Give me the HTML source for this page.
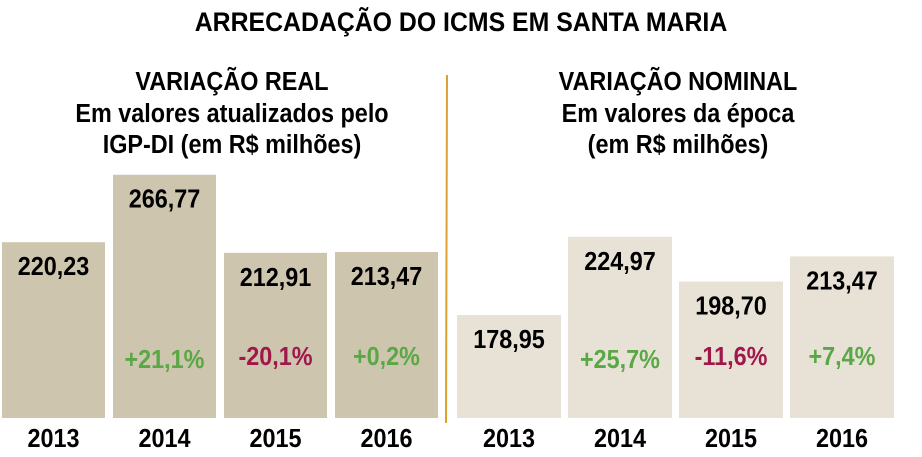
<!DOCTYPE html>
<html><head><meta charset="utf-8"><style>
body{margin:0;background:#fff;}
svg text{font-family:"Liberation Sans",sans-serif;font-weight:bold;}
</style></head><body>
<svg width="922" height="452" viewBox="0 0 922 452">
<text x="461" y="31" text-anchor="middle" font-size="27" transform="translate(461,0) scale(0.92,1) translate(-461,0)">ARRECADAÇÃO DO ICMS EM SANTA MARIA</text>
<g transform="translate(232,0) scale(0.9,1) translate(-232,0)" font-size="26" text-anchor="middle">
<text x="232" y="90">VARIAÇÃO REAL</text>
<text x="232" y="122">Em valores atualizados pelo</text>
<text x="232" y="153">IGP-DI (em R$ milhões)</text>
</g>
<g transform="translate(678,0) scale(0.9,1) translate(-678,0)" font-size="26" text-anchor="middle">
<text x="678" y="90">VARIAÇÃO NOMINAL</text>
<text x="678" y="122">Em valores da época</text>
<text x="678" y="153">(em R$ milhões)</text>
</g>
<line x1="447" y1="75" x2="446" y2="423" stroke="#e0a030" stroke-width="2"/>
<g id="bars"></g>
</svg>
<script>
const years=["2013","2014","2015","2016"];
const realValues=[220.23,266.77,212.91,213.47];
const realLabels=["220,23","266,77","212,91","213,47"];
const realChanges=["","+21,1%","-20,1%","+0,2%"];
const nominalValues=[178.95,224.97,198.70,213.47];
const nominalLabels=["178,95","224,97","198,70","213,47"];
const nominalChanges=["","+25,7%","-11,6%","+7,4%"];
const NS="http://www.w3.org/2000/svg";
const g=document.getElementById("bars");
const bottom=418;
function panel(name,vals,labels,changes,x0,step,w,slope,base,color){
  vals.forEach((v,i)=>{
    const h=slope*(v-base), x=x0+i*step, y=bottom-h, cx=x+w/2;
    const r=document.createElementNS(NS,"rect");
    
    
    r.setAttribute("x",x);r.setAttribute("y",y);r.setAttribute("width",w);r.setAttribute("height",h);r.setAttribute("fill",color);
    g.appendChild(r);
    const t=document.createElementNS(NS,"text");
    
    
    t.setAttribute("x",cx);t.setAttribute("y",y+33);t.setAttribute("text-anchor","middle");t.setAttribute("font-size","26");
    t.setAttribute("transform",`translate(${cx},0) scale(0.9,1) translate(${-cx},0)`);
    t.textContent=labels[i];g.appendChild(t);
    if(changes[i]){
      const c=document.createElementNS(NS,"text");
      
      
      c.setAttribute("x",cx);c.setAttribute("y",y<240?368:365);c.setAttribute("text-anchor","middle");c.setAttribute("font-size","26");
      c.setAttribute("fill",changes[i][0]=="-"?"#a0174a":"#5aa845");
      c.setAttribute("transform",`translate(${cx},0) scale(0.9,1) translate(${-cx},0)`);
      c.textContent=changes[i];g.appendChild(c);
    }
    const yl=document.createElementNS(NS,"text");
    
    
    yl.setAttribute("x",cx);yl.setAttribute("y",447);yl.setAttribute("text-anchor","middle");yl.setAttribute("font-size","26");
    yl.setAttribute("transform",`translate(${cx},0) scale(0.9,1) translate(${-cx},0)`);
    yl.textContent=years[i];g.appendChild(yl);
  });
}
panel("real",realValues,realLabels,realChanges,2,111,103,1.45,99,"#cdc5ae");
panel("nominal",nominalValues,nominalLabels,nominalChanges,457,111,104,1.7,118.4,"#e8e2d6");
</script>
</body></html>
